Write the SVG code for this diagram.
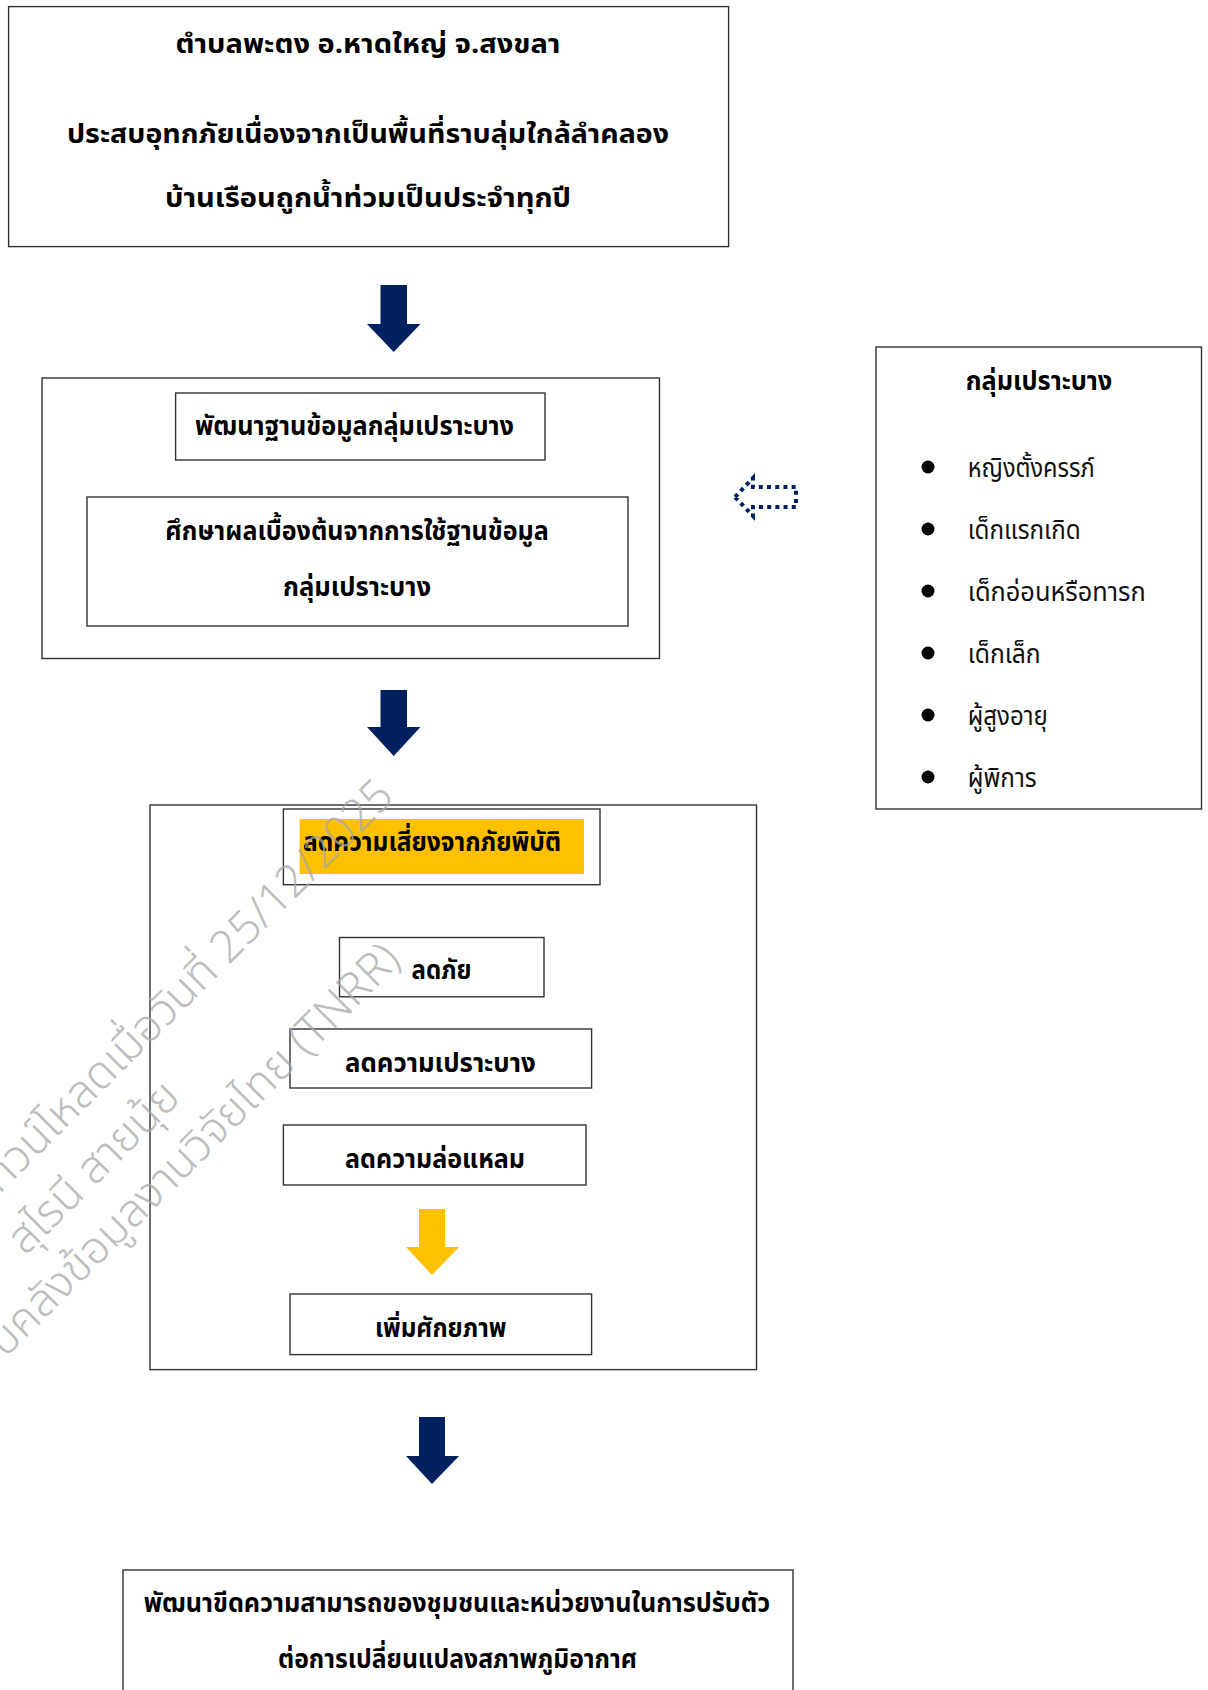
<svg xmlns="http://www.w3.org/2000/svg" width="1208" height="1690" viewBox="0 0 1208 1690">
<style>
  .box { fill: #ffffff; stroke: #333333; stroke-width: 1.4; }
  .t { font-family: "Noto Sans Thai", "Noto Sans", "DejaVu Sans", sans-serif; font-size: 27px; font-weight: bold; fill: #000000; }
  .c { text-anchor: middle; }
  .li { font-family: "Noto Sans Thai", "Noto Sans", "DejaVu Sans", sans-serif; font-size: 26px; font-weight: normal; fill: #111111; }
  .navy { fill: #002060; }
  .yellow { fill: #FFC000; }
  .dot { fill: none; stroke: #002060; stroke-width: 4; stroke-dasharray: 4 4.2; }
  .wm { font-family: "Noto Sans Thai", "Noto Sans", "DejaVu Sans", sans-serif; font-size: 45px; font-weight: 300; fill: #a8a8a8; fill-opacity: 0.75; text-anchor: end; }
</style>
<rect x="0" y="0" width="1208" height="1690" fill="#ffffff"/>

<g id="node-context">
  <rect class="box" x="8.6" y="6.6" width="720" height="240"/>
  <text class="t c" x="368" y="53" textLength="385" lengthAdjust="spacingAndGlyphs">ตำบลพะตง อ.หาดใหญ่ จ.สงขลา</text>
  <text class="t c" x="368" y="143" textLength="602" lengthAdjust="spacingAndGlyphs">ประสบอุทกภัยเนื่องจากเป็นพื้นที่ราบลุ่มใกล้ลำคลอง</text>
  <text class="t c" x="368" y="206.5" textLength="406" lengthAdjust="spacingAndGlyphs">บ้านเรือนถูกน้ำท่วมเป็นประจำทุกปี</text>
</g>

<g id="node-database">
  <rect class="box" x="42" y="378" width="617.5" height="280.5"/>
  <g id="node-develop-db">
    <rect class="box" x="175.6" y="393" width="369.4" height="67"/>
    <text class="t" x="195" y="435" textLength="319" lengthAdjust="spacingAndGlyphs">พัฒนาฐานข้อมูลกลุ่มเปราะบาง</text>
  </g>
  <g id="node-study">
    <rect class="box" x="87" y="497" width="541" height="129"/>
    <text class="t c" x="357" y="539.5" textLength="383.5" lengthAdjust="spacingAndGlyphs">ศึกษาผลเบื้องต้นจากการใช้ฐานข้อมูล</text>
    <text class="t c" x="357" y="595.5" textLength="148" lengthAdjust="spacingAndGlyphs">กลุ่มเปราะบาง</text>
  </g>
</g>

<g id="node-vulnerable">
  <rect class="box" x="876" y="347" width="325.5" height="462"/>
  <text class="t c" x="1039" y="389.5" textLength="146.5" lengthAdjust="spacingAndGlyphs">กลุ่มเปราะบาง</text>
  <g fill="#000000">
    <circle cx="928" cy="467" r="6.5"/>
    <circle cx="928" cy="529" r="6.5"/>
    <circle cx="928" cy="591" r="6.5"/>
    <circle cx="928" cy="653" r="6.5"/>
    <circle cx="928" cy="715" r="6.5"/>
    <circle cx="928" cy="777" r="6.5"/>
  </g>
  <text class="li" x="967.7" y="477" textLength="127" lengthAdjust="spacingAndGlyphs">หญิงตั้งครรภ์</text>
  <text class="li" x="967.7" y="538.5" textLength="113" lengthAdjust="spacingAndGlyphs">เด็กแรกเกิด</text>
  <text class="li" x="967.7" y="601" textLength="178" lengthAdjust="spacingAndGlyphs">เด็กอ่อนหรือทารก</text>
  <text class="li" x="967.7" y="662.5" textLength="73" lengthAdjust="spacingAndGlyphs">เด็กเล็ก</text>
  <text class="li" x="967.7" y="725" textLength="80" lengthAdjust="spacingAndGlyphs">ผู้สูงอายุ</text>
  <text class="li" x="967.7" y="786.5" textLength="69" lengthAdjust="spacingAndGlyphs">ผู้พิการ</text>
</g>

<g id="node-risk">
  <rect class="box" x="150" y="805" width="606.5" height="564.6"/>
  <g id="node-risk-title">
    <rect class="box" x="283.4" y="809" width="316.6" height="75.7"/>
    <rect class="yellow" x="299.6" y="819" width="284.4" height="55"/>
    <text class="t" x="303" y="851" textLength="258" lengthAdjust="spacingAndGlyphs">ลดความเสี่ยงจากภัยพิบัติ</text>
  </g>
  <g id="node-hazard">
    <rect class="box" x="339.5" y="937.5" width="204.5" height="59.3"/>
    <text class="t" x="411.6" y="978.5" textLength="60" lengthAdjust="spacingAndGlyphs">ลดภัย</text>
  </g>
  <g id="node-vuln">
    <rect class="box" x="290" y="1029" width="301.6" height="59"/>
    <text class="t" x="345" y="1072" textLength="190.6" lengthAdjust="spacingAndGlyphs">ลดความเปราะบาง</text>
  </g>
  <g id="node-exposure">
    <rect class="box" x="283.4" y="1125" width="302.6" height="60"/>
    <text class="t" x="345" y="1167.5" textLength="180" lengthAdjust="spacingAndGlyphs">ลดความล่อแหลม</text>
  </g>
  <g id="node-capacity">
    <rect class="box" x="290" y="1294" width="301.6" height="60.6"/>
    <text class="t" x="375" y="1337" textLength="131.5" lengthAdjust="spacingAndGlyphs">เพิ่มศักยภาพ</text>
  </g>
</g>

<g id="node-result">
  <rect class="box" x="123" y="1570" width="670" height="140"/>
  <text class="t c" x="457" y="1612" textLength="626.5" lengthAdjust="spacingAndGlyphs">พัฒนาขีดความสามารถของชุมชนและหน่วยงานในการปรับตัว</text>
  <text class="t c" x="457.5" y="1668" textLength="359" lengthAdjust="spacingAndGlyphs">ต่อการเปลี่ยนแปลงสภาพภูมิอากาศ</text>
</g>

<g id="connectors">
  <polygon class="navy" points="380.5,285 407,285 407,324 420.5,324 393.7,352 367,324 380.5,324"/>
  <polygon class="navy" points="380.5,690 407,690 407,727 420.5,727 393.7,756 367,727 380.5,727"/>
  <polygon class="yellow" points="419,1209 445,1209 445,1247 459,1247 432,1275 406,1247 419,1247"/>
  <polygon class="navy" points="419,1417 445,1417 445,1456 459,1456 432,1484 406,1456 419,1456"/>
  <polygon class="dot" points="735,497 753,478 753,487 796,487 796,507 753,507 753,516"/>
</g>

<g id="watermark" transform="translate(396,798) rotate(-45)">
  <text class="wm" x="0" y="0">ดาวน์โหลดเมื่อวันที่ 25/12/2025</text>
  <text class="wm" x="-364" y="62">สุไรนี สายนุ้ย</text>
  <text class="wm" x="-111" y="120">ระบบคลังข้อมูลงานวิจัยไทย (TNRR)</text>
</g>
</svg>
